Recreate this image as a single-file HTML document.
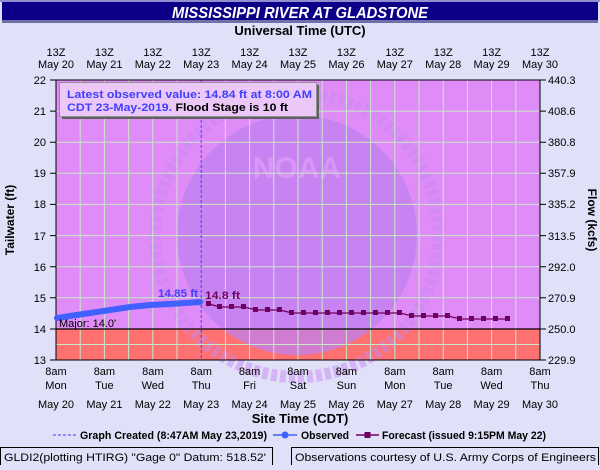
<!DOCTYPE html>
<html><head><style>
body{margin:0;width:600px;height:465px;overflow:hidden;background:#e0e0f8;font-family:"Liberation Sans",sans-serif}
</style></head><body>
<svg width="600" height="465" xmlns="http://www.w3.org/2000/svg" font-family="Liberation Sans, sans-serif">
<rect width="600" height="465" fill="#e0e0f8"/>
<rect x="0" y="0" width="600" height="2" fill="#9090d0"/>
<rect x="2" y="2" width="596" height="20" fill="#0c0088"/>
<rect x="2" y="20" width="596" height="3" fill="#7070a8"/>
<text x="172" y="18" fill="#fff" font-size="16" font-weight="bold" font-style="italic" textLength="256" lengthAdjust="spacingAndGlyphs">MISSISSIPPI RIVER AT GLADSTONE</text>
<text x="300" y="35" text-anchor="middle" font-size="13" font-weight="bold">Universal Time (UTC)</text>
<!-- plot -->
<rect x="56" y="80" width="484" height="249" fill="#e08cf8"/>
<rect x="56" y="329" width="484" height="31" fill="#ff7070"/>
<circle cx="297" cy="235" r="120" fill="#c080f0" opacity="0.75"/>
<circle cx="297" cy="235" r="142" fill="none" stroke="#c888f0" stroke-width="12" stroke-dasharray="6,3" opacity="0.5"/>
<text x="297" y="178" text-anchor="middle" font-size="30" font-weight="bold" fill="#e0a0f8" opacity="0.7">NOAA</text>
<g stroke="#c8e8c8" stroke-width="1">
<path d="M56 111.1H540M56 142.2H540M56 173.3H540M56 204.4H540M56 235.6H540M56 266.7H540M56 297.8H540M56 344.5H540"/>
<path d="M80.2 80V360M104.4 80V360M128.6 80V360M152.8 80V360M177 80V360M225.4 80V360M249.6 80V360M273.8 80V360M298 80V360M322.2 80V360M346.4 80V360M370.6 80V360M394.8 80V360M419 80V360M443.2 80V360M467.4 80V360M491.6 80V360M515.8 80V360"/>
</g>
<line x1="56" y1="329" x2="540" y2="329" stroke="#000" stroke-width="1.2"/>
<line x1="201.2" y1="80" x2="201.2" y2="360" stroke="#4040ff" stroke-dasharray="3,2"/>
<rect x="56" y="80" width="484" height="280" fill="none" stroke="#000"/>
<!-- legend box -->
<rect x="62" y="85" width="257" height="34" fill="#606060"/>
<rect x="59.5" y="82.5" width="257" height="34" fill="#ecc8f8" stroke="#909090"/>
<text x="67" y="98" font-size="11" font-weight="bold" fill="#4040ff" textLength="245" lengthAdjust="spacingAndGlyphs">Latest observed value: 14.84 ft at 8:00 AM</text>
<text x="67" y="111" font-size="11" font-weight="bold" fill="#4040ff" textLength="221" lengthAdjust="spacingAndGlyphs">CDT 23-May-2019. <tspan fill="#000">Flood Stage is 10 ft</tspan></text>
<!-- observed -->
<path d="M57 318 L70 316 L90 313 L110 310 L130 307 L150 305 L170 304 L185 303 L200 302" fill="none" stroke="#4060ff" stroke-width="6" stroke-linecap="round"/>
<text x="158" y="297" font-size="11" font-weight="bold" fill="#4040ff" textLength="40" lengthAdjust="spacingAndGlyphs">14.85 ft</text>
<text x="205" y="299" font-size="11" font-weight="bold" fill="#700060" textLength="35" lengthAdjust="spacingAndGlyphs">14.8 ft</text>
<!-- forecast -->
<polyline fill="none" stroke="#700060" stroke-width="1.3" points="209,304 220,307 232,307 244,307 256,310 268,310 280,310 292,313 304,313 316,313 328,313 340,313 352,313 364,313 376,313 388,313 400,313 412,316 424,316 436,316 448,316 460,319 472,319 484,319 496,319 508,319"/>
<g fill="#700060">
<rect x="206" y="301" width="5" height="5"/><rect x="217" y="304" width="5" height="5"/><rect x="229" y="304" width="5" height="5"/><rect x="241" y="304" width="5" height="5"/><rect x="253" y="307" width="5" height="5"/><rect x="265" y="307" width="5" height="5"/><rect x="277" y="307" width="5" height="5"/><rect x="289" y="310" width="5" height="5"/><rect x="301" y="310" width="5" height="5"/><rect x="313" y="310" width="5" height="5"/><rect x="325" y="310" width="5" height="5"/><rect x="337" y="310" width="5" height="5"/><rect x="349" y="310" width="5" height="5"/><rect x="361" y="310" width="5" height="5"/><rect x="373" y="310" width="5" height="5"/><rect x="385" y="310" width="5" height="5"/><rect x="397" y="310" width="5" height="5"/><rect x="409" y="313" width="5" height="5"/><rect x="421" y="313" width="5" height="5"/><rect x="433" y="313" width="5" height="5"/><rect x="445" y="313" width="5" height="5"/><rect x="457" y="316" width="5" height="5"/><rect x="469" y="316" width="5" height="5"/><rect x="481" y="316" width="5" height="5"/><rect x="493" y="316" width="5" height="5"/><rect x="505" y="316" width="5" height="5"/>
</g>
<text x="59" y="327" font-size="11">Major: 14.0'</text>
<!-- ticks -->
<g stroke="#000">
<path d="M50 80H56M50 111.1H56M50 142.2H56M50 173.3H56M50 204.4H56M50 235.6H56M50 266.7H56M50 297.8H56M50 329H56M50 360H56"/>
<path d="M540 80H546M540 111.1H546M540 142.2H546M540 173.3H546M540 204.4H546M540 235.6H546M540 266.7H546M540 297.8H546M540 329H546M540 360H546"/>
</g>
<g font-size="11" text-anchor="end">
<text x="46" y="84">22</text><text x="46" y="115">21</text><text x="46" y="146">20</text><text x="46" y="177">19</text><text x="46" y="208">18</text><text x="46" y="240">17</text><text x="46" y="271">16</text><text x="46" y="302">15</text><text x="46" y="333">14</text><text x="46" y="364">13</text>
</g>
<g font-size="11">
<text x="548" y="84">440.3</text><text x="548" y="115">408.6</text><text x="548" y="146">380.8</text><text x="548" y="177">357.9</text><text x="548" y="208">335.2</text><text x="548" y="240">313.5</text><text x="548" y="271">292.0</text><text x="548" y="302">270.9</text><text x="548" y="333">250.0</text><text x="548" y="364">229.9</text>
</g>
<text transform="translate(14,220) rotate(-90)" text-anchor="middle" font-size="12" font-weight="bold">Tailwater (ft)</text>
<text transform="translate(588,220) rotate(90)" text-anchor="middle" font-size="12" font-weight="bold">Flow (kcfs)</text>
<g font-size="11" text-anchor="middle">
<text x="56" y="56">13Z</text><text x="56" y="68">May 20</text>
<text x="104.4" y="56">13Z</text><text x="104.4" y="68">May 21</text>
<text x="152.8" y="56">13Z</text><text x="152.8" y="68">May 22</text>
<text x="201.2" y="56">13Z</text><text x="201.2" y="68">May 23</text>
<text x="249.6" y="56">13Z</text><text x="249.6" y="68">May 24</text>
<text x="298" y="56">13Z</text><text x="298" y="68">May 25</text>
<text x="346.4" y="56">13Z</text><text x="346.4" y="68">May 26</text>
<text x="394.8" y="56">13Z</text><text x="394.8" y="68">May 27</text>
<text x="443.2" y="56">13Z</text><text x="443.2" y="68">May 28</text>
<text x="491.6" y="56">13Z</text><text x="491.6" y="68">May 29</text>
<text x="540" y="56">13Z</text><text x="540" y="68">May 30</text>
</g>
<g font-size="11" text-anchor="middle">
<text x="56" y="375">8am</text><text x="56" y="389">Mon</text><text x="56" y="408">May 20</text>
<text x="104.4" y="375">8am</text><text x="104.4" y="389">Tue</text><text x="104.4" y="408">May 21</text>
<text x="152.8" y="375">8am</text><text x="152.8" y="389">Wed</text><text x="152.8" y="408">May 22</text>
<text x="201.2" y="375">8am</text><text x="201.2" y="389">Thu</text><text x="201.2" y="408">May 23</text>
<text x="249.6" y="375">8am</text><text x="249.6" y="389">Fri</text><text x="249.6" y="408">May 24</text>
<text x="298" y="375">8am</text><text x="298" y="389">Sat</text><text x="298" y="408">May 25</text>
<text x="346.4" y="375">8am</text><text x="346.4" y="389">Sun</text><text x="346.4" y="408">May 26</text>
<text x="394.8" y="375">8am</text><text x="394.8" y="389">Mon</text><text x="394.8" y="408">May 27</text>
<text x="443.2" y="375">8am</text><text x="443.2" y="389">Tue</text><text x="443.2" y="408">May 28</text>
<text x="491.6" y="375">8am</text><text x="491.6" y="389">Wed</text><text x="491.6" y="408">May 29</text>
<text x="540" y="375">8am</text><text x="540" y="389">Thu</text><text x="540" y="408">May 30</text>
</g>
<text x="300" y="423" text-anchor="middle" font-size="13" font-weight="bold">Site Time (CDT)</text>
<line x1="53" y1="435" x2="76" y2="435" stroke="#4040ff" stroke-dasharray="3,2"/>
<text x="80" y="439" font-size="11" font-weight="bold" textLength="187" lengthAdjust="spacingAndGlyphs">Graph Created (8:47AM May 23,2019)</text>
<line x1="273" y1="435" x2="297" y2="435" stroke="#4060ff" stroke-width="1.5"/><circle cx="285" cy="435" r="3.5" fill="#4060ff"/>
<text x="301" y="439" font-size="11" font-weight="bold" textLength="48" lengthAdjust="spacingAndGlyphs">Observed</text>
<line x1="356" y1="435" x2="379" y2="435" stroke="#700060" stroke-width="1.5"/><rect x="364.5" y="432" width="6" height="6" fill="#700060"/>
<text x="382" y="439" font-size="11" font-weight="bold" textLength="164" lengthAdjust="spacingAndGlyphs">Forecast (issued 9:15PM May 22)</text>
<rect x="0.5" y="447.5" width="272" height="18" fill="none" stroke="#000"/>
<text x="4" y="461" font-size="11" textLength="262" lengthAdjust="spacingAndGlyphs">GLDI2(plotting HTIRG) "Gage 0" Datum: 518.52'</text>
<rect x="291.5" y="447.5" width="307" height="18" fill="none" stroke="#000"/>
<text x="295" y="461" font-size="11" textLength="301" lengthAdjust="spacingAndGlyphs">Observations courtesy of U.S. Army Corps of Engineers</text>
</svg>
</body></html>
